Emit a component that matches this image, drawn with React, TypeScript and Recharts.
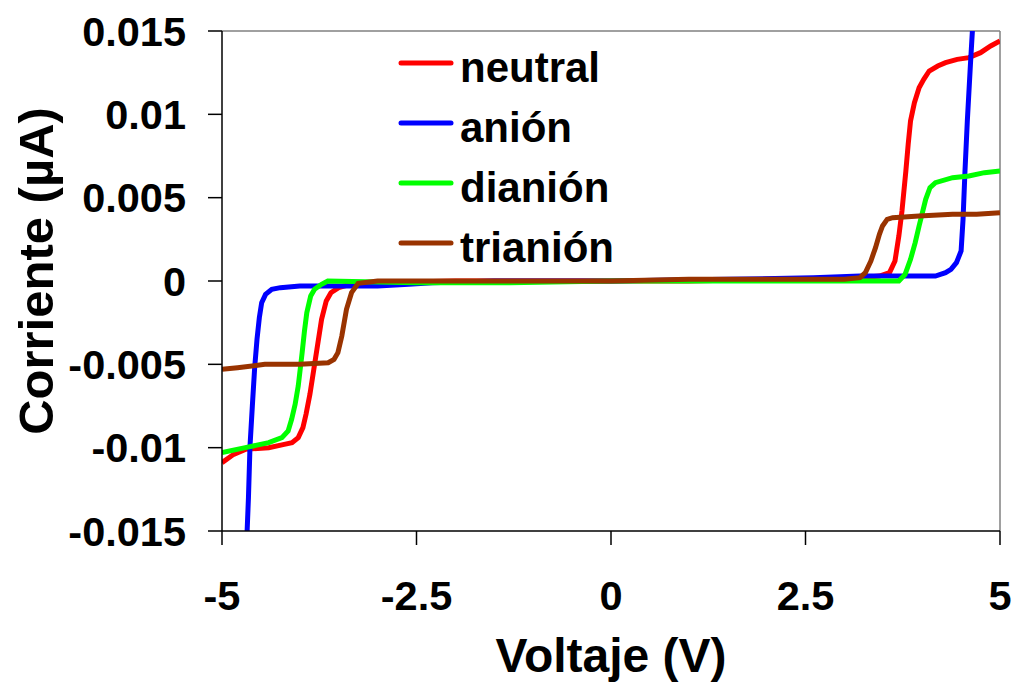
import React from 'react';
import { LineChart, Line, XAxis, YAxis, Legend, Label, ReferenceLine } from 'recharts';

// voltage (V) and current readings for each charge state
const neutralV = [-5, -4.85, -4.7, -4.4, -4.2, -4.1, -4.02, -3.96, -3.92, -3.87, -3.82, -3.78, -3.72, -3.66, -3.6, -3.5, -3.35, -3.0, -2.0, -1.0, 0, 1.0, 2.0, 3.0, 3.45, 3.58, 3.65, 3.7, 3.74, 3.79, 3.82, 3.85, 3.9, 3.96, 4.02, 4.09, 4.2, 4.3, 4.45, 4.6, 4.75, 4.88, 5];
const neutralI = [-0.0109, -0.0104, -0.0101, -0.01, -0.0098, -0.0097, -0.0094, -0.0088, -0.008, -0.0068, -0.0053, -0.0041, -0.0023, -0.0012, -0.0007, -0.0004, -0.0002, -0.0001, 0, 0, 0, 0, 0.0001, 0.0001, 0.0003, 0.0005, 0.0012, 0.0027, 0.0042, 0.0066, 0.0082, 0.0096, 0.0107, 0.0116, 0.0121, 0.0126, 0.0129, 0.0131, 0.0133, 0.0134, 0.0137, 0.0141, 0.0144];

const anionV = [-4.69, -4.66, -4.64, -4.61, -4.58, -4.55, -4.52, -4.49, -4.44, -4.36, -4.25, -4.0, -3.5, -3.0, -2.6, -2.3, -1.5, 0, 1.5, 2.6, 3.2, 3.8, 4.17, 4.3, 4.37, 4.44, 4.5, 4.525, 4.55, 4.58, 4.62, 4.645, 4.66];
const anionI = [-0.0165, -0.013, -0.0099, -0.0075, -0.0052, -0.0035, -0.0022, -0.0013, -0.0008, -0.0005, -0.0004, -0.0003, -0.0003, -0.0003, -0.0002, -0.0001, 0, 0, 0.0001, 0.0002, 0.0003, 0.0003, 0.0003, 0.0005, 0.0007, 0.0011, 0.0018, 0.0037, 0.0066, 0.0096, 0.013, 0.015, 0.0165];

const dianionV = [-5, -4.7, -4.4, -4.23, -4.15, -4.105, -4.06, -4.02, -3.97, -3.94, -3.91, -3.86, -3.81, -3.72, -3.64, -2.5, -1.3, 0, 1.5, 2.5, 3.0, 3.7, 3.78, 3.85, 3.91, 3.96, 4.045, 4.1, 4.17, 4.39, 4.6, 4.8, 5];
const dianionI = [-0.0103, -0.01, -0.0097, -0.0094, -0.009, -0.0083, -0.0074, -0.0063, -0.0043, -0.003, -0.0019, -0.0009, -0.0005, -0.0002, 0, -0.0001, -0.0001, 0, 0, 0, 0, 0, 0.0004, 0.0013, 0.0023, 0.0033, 0.0049, 0.0056, 0.0059, 0.0062, 0.0063, 0.0065, 0.0066];

const trianionV = [-5, -4.8, -4.45, -4.0, -3.635, -3.56, -3.51, -3.46, -3.4, -3.335, -3.25, -3.0, -2.0, -1.0, 0, 1.0, 2.0, 3.0, 3.2, 3.27, 3.34, 3.4, 3.45, 3.49, 3.55, 3.62, 3.96, 4.39, 4.7, 5];
const trianionI = [-0.0053, -0.0052, -0.005, -0.005, -0.0049, -0.0047, -0.0043, -0.0033, -0.0017, -0.0007, -0.00014, 0, 0, 0, 0, 0.0001, 0.0001, 0.0001, 0.0002, 0.0005, 0.0012, 0.002, 0.0028, 0.0033, 0.0037, 0.0038, 0.0039, 0.004, 0.004, 0.0041];

const xTicks = [-5, -2.5, 0, 2.5, 5];
const yTicks = [-0.015, -0.01, -0.005, 0, 0.005, 0.01, 0.015];

const toRows = (vs: number[], is: number[]) => vs.map((v, k) => ({ v, i: is[k] }));

const series = [
  { name: 'neutral', color: '#ff0000', data: toRows(neutralV, neutralI) },
  { name: 'anión', color: '#0000ff', data: toRows(anionV, anionI) },
  { name: 'dianión', color: '#00ff00', data: toRows(dianionV, dianionI) },
  { name: 'trianión', color: '#993300', data: toRows(trianionV, trianionI) },
];

const font = 'Arial, "Liberation Sans", sans-serif';
const tickStyle = { fontSize: 41.5, fontWeight: 700, fill: '#000', fontFamily: font };

// legend keeps the series order instead of the default alphabetical sort
const renderLegend = () => (
  <div style={{ fontFamily: font }}>
    {series.map((s) => (
      <div key={s.name} style={{ display: 'flex', alignItems: 'center', height: 60 }}>
        <svg width={58} height={12} style={{ position: 'relative', top: -5 }}>
          <line x1={4} y1={6} x2={54} y2={6} stroke={s.color} strokeWidth={5} strokeLinecap="round" />
        </svg>
        <span style={{ fontSize: 42, fontWeight: 700, color: '#000', marginLeft: 5, lineHeight: '60px' }}>{s.name}</span>
      </div>
    ))}
  </div>
);

const XTitle = (props: any) => {
  const vb = props.viewBox;
  return (
    <text x={vb.x + vb.width / 2} y={vb.y + 141} textAnchor="middle" style={{ fontSize: 48, fontWeight: 700, fontFamily: font }} fill="#000">
      Voltaje (V)
    </text>
  );
};

const YTitle = (props: any) => {
  const vb = props.viewBox;
  const cx = vb.x + 36;
  const cy = vb.y + vb.height / 2 - 10;
  return (
    <text x={cx} y={cy} transform={`rotate(-90, ${cx}, ${cy})`} textAnchor="middle" dominantBaseline="central" style={{ fontSize: 49, fontWeight: 700, fontFamily: font }} fill="#000">
      Corriente (µA)
    </text>
  );
};

export default function App() {
  return (
    <div style={{ position: 'absolute', left: 0, top: 0, background: '#fff' }}>
      <LineChart width={1016} height={684} margin={{ top: 31, right: 16, bottom: 0, left: 0 }}>
        <XAxis
          type="number"
          dataKey="v"
          domain={[-5, 5]}
          ticks={xTicks}
          allowDataOverflow
          height={153}
          tickSize={14}
          tickMargin={36}
          tick={tickStyle}
          axisLine={{ stroke: '#000', strokeWidth: 1.5 }}
          tickLine={{ stroke: '#000', strokeWidth: 1.5 }}
        >
          <Label content={<XTitle />} />
        </XAxis>
        <YAxis
          type="number"
          dataKey="i"
          domain={[-0.015, 0.015]}
          ticks={yTicks}
          allowDataOverflow
          width={222}
          tickSize={14}
          tickMargin={22}
          tick={tickStyle}
          axisLine={{ stroke: '#000', strokeWidth: 1.5 }}
          tickLine={{ stroke: '#000', strokeWidth: 1.5 }}
        >
          <Label content={<YTitle />} />
        </YAxis>
        <ReferenceLine y={0.015} stroke="#808080" strokeWidth={1.5} />
        <ReferenceLine x={5} stroke="#808080" strokeWidth={1.5} />
        {series.map((s) => (
          <Line
            key={s.name}
            name={s.name}
            data={s.data}
            dataKey="i"
            type="linear"
            stroke={s.color}
            strokeWidth={5}
            dot={false}
            isAnimationActive={false}
          />
        ))}
        <Legend
          layout="vertical"
          align="center"
          verticalAlign="middle"
          content={renderLegend}
          wrapperStyle={{ left: 397, top: 38, width: 280 }}
        />
      </LineChart>
    </div>
  );
}
